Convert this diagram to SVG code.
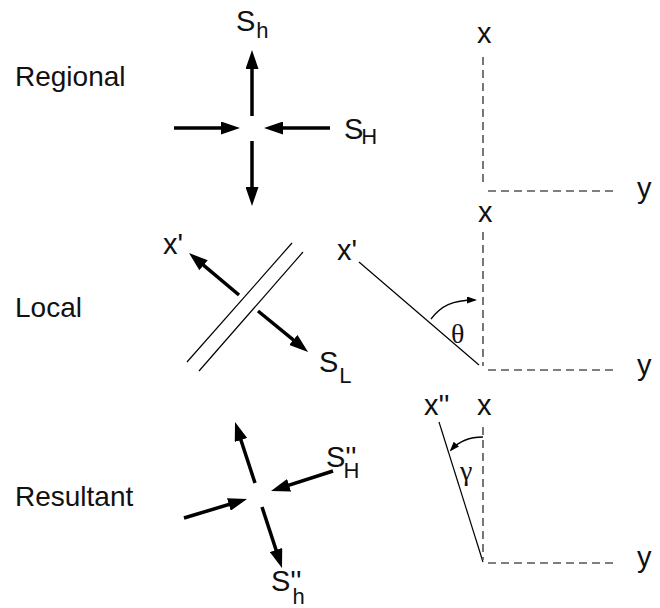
<svg xmlns="http://www.w3.org/2000/svg" width="660" height="608" viewBox="0 0 660 608">
<style>
text{font-family:"Liberation Sans",Arial,sans-serif;fill:#111}
.lbl{font-size:28px}
.s{font-size:29px}
.sub{font-size:22px}
.greek{font-family:"Liberation Serif","Times New Roman",serif;font-size:28px}
.heavy{stroke:#000;stroke-width:3.5;fill:none;marker-end:url(#ah)}
.thin{stroke:#000;stroke-width:1.2;fill:none}
.dash{stroke:#555;stroke-width:1.6;stroke-dasharray:8 5;fill:none}
.arc{stroke:#000;stroke-width:1.3;fill:none;marker-end:url(#ahs)}
</style>
<defs>
<marker id="ah" viewBox="0 0 19 13" refX="13" refY="6.5" markerWidth="19" markerHeight="13" markerUnits="userSpaceOnUse" orient="auto">
<path d="M0,0 L19,6.5 L0,13 Z" fill="#000"/>
</marker>
<marker id="ahs" viewBox="0 0 10 7" refX="8" refY="3.5" markerWidth="10" markerHeight="7" markerUnits="userSpaceOnUse" orient="auto">
<path d="M0,0 L10,3.5 L0,7 Z" fill="#000"/>
</marker>
</defs>
<rect width="660" height="608" fill="#fff"/>

<g id="row-labels">
<text class="lbl" x="15" y="86">Regional</text>
<text class="lbl" x="15" y="317">Local</text>
<text class="lbl" x="15" y="506">Resultant</text>
</g>

<g id="regional-stress">
<text class="s" x="236" y="31">S<tspan class="sub" dx="1" dy="7">h</tspan></text>
<text class="s" x="344" y="139">S<tspan class="sub" dx="-2" dy="5">H</tspan></text>
</g>

<g id="regional-axes">
<text class="s" x="477" y="43">x</text>
<text class="s" x="637" y="198">y</text>
</g>

<g id="local-fault">
<line class="thin" x1="187" y1="362" x2="292" y2="243"/>
<line class="thin" x1="199" y1="371" x2="303" y2="252"/>
<text class="s" x="163" y="254">x'</text>
<text class="s" x="319" y="372">S<tspan class="sub" dx="1" dy="11">L</tspan></text>
</g>

<g id="local-axes">
<text class="s" x="478" y="222">x</text>
<text class="s" x="337" y="260">x'</text>
<line class="thin" x1="359" y1="262" x2="479" y2="365"/>
<text class="greek" x="451" y="343">θ</text>
<text class="s" x="637" y="375">y</text>
</g>

<g id="resultant-stress">
<text class="s" x="326" y="467">S''<tspan class="sub" dx="-13" dy="11">H</tspan></text>
<text class="s" x="271" y="591">S''<tspan class="sub" dx="-9" dy="13">h</tspan></text>
</g>

<g id="resultant-axes">
<text class="s" x="424" y="415">x''</text>
<text class="s" x="477" y="415">x</text>
<line class="thin" x1="439" y1="422" x2="483" y2="562"/>
<text class="greek" x="460" y="480">γ</text>
<text class="s" x="637" y="567">y</text>
</g>

<g id="connectors">
<line class="heavy" x1="252" y1="116" x2="252" y2="56"/>
<line class="heavy" x1="174" y1="128" x2="234" y2="128"/>
<line class="heavy" x1="330" y1="128" x2="270" y2="128"/>
<line class="heavy" x1="252" y1="141" x2="252" y2="200"/>

<line class="heavy" x1="239" y1="295" x2="193.6" y2="256.9"/>
<line class="heavy" x1="258" y1="311" x2="303.4" y2="348.2"/>

<line class="heavy" x1="255" y1="483" x2="236.9" y2="427.7"/>
<line class="heavy" x1="333" y1="471" x2="276.7" y2="489.2"/>
<line class="heavy" x1="184" y1="518" x2="241.3" y2="500.7"/>
<line class="heavy" x1="262" y1="507" x2="280.1" y2="562.3"/>

<line class="dash" x1="483" y1="57" x2="483" y2="183"/>
<line class="dash" x1="488" y1="191" x2="618" y2="191"/>
<line class="dash" x1="483" y1="232" x2="483" y2="366"/>
<line class="dash" x1="488" y1="370" x2="618" y2="370"/>
<line class="dash" x1="483" y1="427" x2="483" y2="560"/>
<line class="dash" x1="488" y1="563" x2="618" y2="563"/>

<path class="arc" d="M431,319 C441,306 452,300 475,300"/>
<path class="arc" d="M483,437 C471,437 460,440 451,450"/>
</g>
</svg>
